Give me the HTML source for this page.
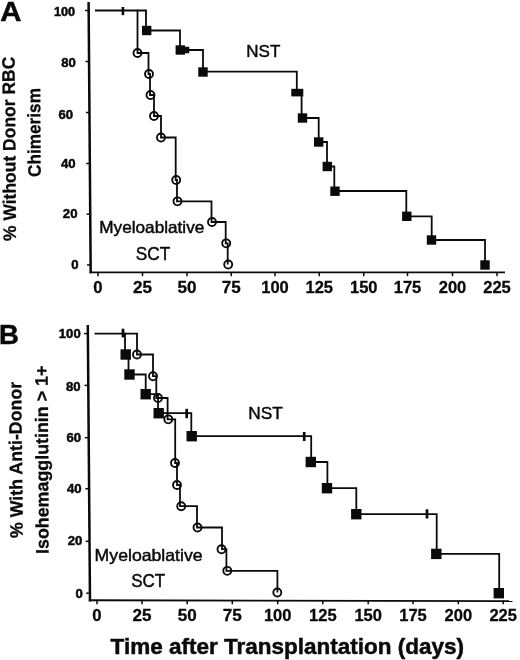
<!DOCTYPE html>
<html><head><meta charset="utf-8"><title>Figure</title>
<style>
html,body{margin:0;padding:0;background:#fff;}
svg{display:block;font-family:"Liberation Sans",sans-serif;fill:#0a0a0a;}
</style></head>
<body>
<svg width="520" height="660" viewBox="0 0 520 660">
<rect x="0" y="0" width="520" height="660" fill="#fff"/>
<path d="M88.6 2 L90.7 273.29999999999995" fill="none" stroke="#0a0a0a" stroke-width="2.5" stroke-linejoin="miter"/>
<path d="M89.5 272.4 H505" fill="none" stroke="#0a0a0a" stroke-width="1.9" stroke-linejoin="miter"/>
<line x1="85.07" y1="10.5" x2="88.67" y2="10.5" stroke="#0a0a0a" stroke-width="1.5"/>
<text x="75.17" y="15.6" font-size="13" font-weight="bold" text-anchor="end" textLength="21.2" lengthAdjust="spacingAndGlyphs" stroke="#0a0a0a" stroke-width="0.5">100</text>
<line x1="85.46" y1="61.5" x2="89.06" y2="61.5" stroke="#0a0a0a" stroke-width="1.5"/>
<text x="75.86" y="67.1" font-size="13" font-weight="bold" text-anchor="end" textLength="14.6" lengthAdjust="spacingAndGlyphs" stroke="#0a0a0a" stroke-width="0.5">80</text>
<line x1="85.86" y1="112.5" x2="89.46" y2="112.5" stroke="#0a0a0a" stroke-width="1.5"/>
<text x="73.16" y="118.5" font-size="13" font-weight="bold" text-anchor="end" textLength="14.6" lengthAdjust="spacingAndGlyphs" stroke="#0a0a0a" stroke-width="0.5">60</text>
<line x1="86.26" y1="163.5" x2="89.86" y2="163.5" stroke="#0a0a0a" stroke-width="1.5"/>
<text x="75.56" y="168.1" font-size="13" font-weight="bold" text-anchor="end" textLength="14.6" lengthAdjust="spacingAndGlyphs" stroke="#0a0a0a" stroke-width="0.5">40</text>
<line x1="86.65" y1="214.1" x2="90.25" y2="214.1" stroke="#0a0a0a" stroke-width="1.5"/>
<text x="77.45" y="217.9" font-size="13" font-weight="bold" text-anchor="end" textLength="14.6" lengthAdjust="spacingAndGlyphs" stroke="#0a0a0a" stroke-width="0.5">20</text>
<line x1="87.04" y1="264.9" x2="90.64" y2="264.9" stroke="#0a0a0a" stroke-width="1.5"/>
<text x="78.64" y="268.7" font-size="13" font-weight="bold" text-anchor="end" textLength="7.3" lengthAdjust="spacingAndGlyphs" stroke="#0a0a0a" stroke-width="0.5">0</text>
<line x1="98" y1="272.4" x2="98" y2="276.2" stroke="#0a0a0a" stroke-width="1.5"/>
<text x="98" y="292.8" font-size="17" font-weight="bold" text-anchor="middle" textLength="9.3" lengthAdjust="spacingAndGlyphs" stroke="#0a0a0a" stroke-width="0.3">0</text>
<line x1="142.5" y1="272.4" x2="142.5" y2="276.2" stroke="#0a0a0a" stroke-width="1.5"/>
<text x="142.5" y="292.8" font-size="17" font-weight="bold" text-anchor="middle" textLength="19" lengthAdjust="spacingAndGlyphs" stroke="#0a0a0a" stroke-width="0.3">25</text>
<line x1="187" y1="272.4" x2="187" y2="276.2" stroke="#0a0a0a" stroke-width="1.5"/>
<text x="187" y="292.8" font-size="17" font-weight="bold" text-anchor="middle" textLength="19" lengthAdjust="spacingAndGlyphs" stroke="#0a0a0a" stroke-width="0.3">50</text>
<line x1="231.25" y1="272.4" x2="231.25" y2="276.2" stroke="#0a0a0a" stroke-width="1.5"/>
<text x="231.25" y="292.8" font-size="17" font-weight="bold" text-anchor="middle" textLength="19" lengthAdjust="spacingAndGlyphs" stroke="#0a0a0a" stroke-width="0.3">75</text>
<line x1="275" y1="272.4" x2="275" y2="276.2" stroke="#0a0a0a" stroke-width="1.5"/>
<text x="275" y="292.8" font-size="17" font-weight="bold" text-anchor="middle" textLength="27.6" lengthAdjust="spacingAndGlyphs" stroke="#0a0a0a" stroke-width="0.3">100</text>
<line x1="319.25" y1="272.4" x2="319.25" y2="276.2" stroke="#0a0a0a" stroke-width="1.5"/>
<text x="319.25" y="292.8" font-size="17" font-weight="bold" text-anchor="middle" textLength="27.6" lengthAdjust="spacingAndGlyphs" stroke="#0a0a0a" stroke-width="0.3">125</text>
<line x1="363.75" y1="272.4" x2="363.75" y2="276.2" stroke="#0a0a0a" stroke-width="1.5"/>
<text x="363.75" y="292.8" font-size="17" font-weight="bold" text-anchor="middle" textLength="27.6" lengthAdjust="spacingAndGlyphs" stroke="#0a0a0a" stroke-width="0.3">150</text>
<line x1="407.5" y1="272.4" x2="407.5" y2="276.2" stroke="#0a0a0a" stroke-width="1.5"/>
<text x="407.5" y="292.8" font-size="17" font-weight="bold" text-anchor="middle" textLength="27.6" lengthAdjust="spacingAndGlyphs" stroke="#0a0a0a" stroke-width="0.3">175</text>
<line x1="452.5" y1="272.4" x2="452.5" y2="276.2" stroke="#0a0a0a" stroke-width="1.5"/>
<text x="452.5" y="292.8" font-size="17" font-weight="bold" text-anchor="middle" textLength="27.6" lengthAdjust="spacingAndGlyphs" stroke="#0a0a0a" stroke-width="0.3">200</text>
<line x1="497" y1="272.4" x2="497" y2="276.2" stroke="#0a0a0a" stroke-width="1.5"/>
<text x="497" y="292.8" font-size="17" font-weight="bold" text-anchor="middle" textLength="27.6" lengthAdjust="spacingAndGlyphs" stroke="#0a0a0a" stroke-width="0.3">225</text>
<path d="M95 10.5 H137.5 V53 H148.5 V74 H150 V95 H154 V116 H161 V137.5 H175.7 V180 H177 V201.3 H211.5 V222 H225.7 V243.3 H227.7 V264.5" fill="none" stroke="#0a0a0a" stroke-width="1.8" stroke-linejoin="miter"/>
<circle cx="137.5" cy="53" r="4.0" fill="none" stroke="#0a0a0a" stroke-width="1.85"/>
<circle cx="149" cy="74" r="4.0" fill="none" stroke="#0a0a0a" stroke-width="1.85"/>
<circle cx="150.5" cy="95" r="4.0" fill="none" stroke="#0a0a0a" stroke-width="1.85"/>
<circle cx="154" cy="116" r="4.0" fill="none" stroke="#0a0a0a" stroke-width="1.85"/>
<circle cx="161" cy="137.5" r="4.0" fill="none" stroke="#0a0a0a" stroke-width="1.85"/>
<circle cx="176.2" cy="180" r="4.0" fill="none" stroke="#0a0a0a" stroke-width="1.85"/>
<circle cx="177.5" cy="201.3" r="4.0" fill="none" stroke="#0a0a0a" stroke-width="1.85"/>
<circle cx="212" cy="222" r="4.0" fill="none" stroke="#0a0a0a" stroke-width="1.85"/>
<circle cx="226.2" cy="243.3" r="4.0" fill="none" stroke="#0a0a0a" stroke-width="1.85"/>
<circle cx="228.2" cy="264.5" r="4.0" fill="none" stroke="#0a0a0a" stroke-width="1.85"/>
<line x1="122.9" y1="7.0" x2="122.9" y2="15.2" stroke="#0a0a0a" stroke-width="2.6"/>
<path d="M137.5 10.5 H146 V30.5 H180 V50 H203 V71.6 H296.8 V92.5 H301.6 V118 H318.7 V142 H327 V166.5 H334.3 V191 H406.3 V216.3 H431.7 V240 H485 V265" fill="none" stroke="#0a0a0a" stroke-width="1.8" stroke-linejoin="miter"/>
<rect x="142.00" y="25.80" width="9.4" height="9.4" fill="#0a0a0a"/>
<rect x="175.60" y="45.30" width="9.4" height="9.4" fill="#0a0a0a"/>
<rect x="198.30" y="67.30" width="9.4" height="9.4" fill="#0a0a0a"/>
<rect x="297.80" y="113.30" width="9.4" height="9.4" fill="#0a0a0a"/>
<rect x="314.00" y="137.30" width="9.4" height="9.4" fill="#0a0a0a"/>
<rect x="322.60" y="161.80" width="9.4" height="9.4" fill="#0a0a0a"/>
<rect x="330.30" y="186.50" width="9.4" height="9.4" fill="#0a0a0a"/>
<rect x="402.10" y="211.60" width="9.4" height="9.4" fill="#0a0a0a"/>
<rect x="426.80" y="235.30" width="9.4" height="9.4" fill="#0a0a0a"/>
<rect x="480.30" y="260.30" width="9.4" height="9.4" fill="#0a0a0a"/>
<rect x="291.3" y="88.8" width="12" height="7.6" fill="#0a0a0a"/>
<rect x="182.75" y="46.75" width="6.5" height="6.5" fill="#0a0a0a"/>
<text x="0.2" y="20.7" font-size="27.5" font-weight="bold" text-anchor="start" textLength="21.2" lengthAdjust="spacingAndGlyphs" stroke="#0a0a0a" stroke-width="0.5">A</text>
<text x="246.3" y="57.3" font-size="17" font-weight="normal" text-anchor="start" textLength="34" lengthAdjust="spacingAndGlyphs" stroke="#0a0a0a" stroke-width="0.45">NST</text>
<text x="99.3" y="233.4" font-size="16.5" font-weight="normal" text-anchor="start" textLength="105" lengthAdjust="spacingAndGlyphs" stroke="#0a0a0a" stroke-width="0.45">Myeloablative</text>
<text x="135.7" y="260" font-size="17.5" font-weight="normal" text-anchor="start" textLength="34.5" lengthAdjust="spacingAndGlyphs" stroke="#0a0a0a" stroke-width="0.45">SCT</text>
<text x="16.1" y="241" font-size="18" font-weight="bold" text-anchor="start" textLength="184.3" lengthAdjust="spacingAndGlyphs" transform="rotate(-90.45 16.1 241)" stroke="#0a0a0a" stroke-width="0.3">% Without Donor RBC</text>
<text x="40.7" y="177" font-size="18" font-weight="bold" text-anchor="start" textLength="89" lengthAdjust="spacingAndGlyphs" transform="rotate(-90.4 40.7 177)" stroke="#0a0a0a" stroke-width="0.3">Chimerism</text>
<path d="M87.8 325 L90.0 601.4" fill="none" stroke="#0a0a0a" stroke-width="2.5" stroke-linejoin="miter"/>
<path d="M88.8 600.3 L512.5 601.1" fill="none" stroke="#0a0a0a" stroke-width="1.9" stroke-linejoin="miter"/>
<line x1="84.07" y1="333.6" x2="87.67" y2="333.6" stroke="#0a0a0a" stroke-width="1.5"/>
<text x="80.67" y="338.0" font-size="13" font-weight="bold" text-anchor="end" textLength="21.8" lengthAdjust="spacingAndGlyphs" stroke="#0a0a0a" stroke-width="0.5">100</text>
<line x1="84.48" y1="385.4" x2="88.08" y2="385.4" stroke="#0a0a0a" stroke-width="1.5"/>
<text x="80.58" y="390.6" font-size="13" font-weight="bold" text-anchor="end" textLength="14.6" lengthAdjust="spacingAndGlyphs" stroke="#0a0a0a" stroke-width="0.5">80</text>
<line x1="84.90" y1="437.7" x2="88.50" y2="437.7" stroke="#0a0a0a" stroke-width="1.5"/>
<text x="81.1" y="441.8" font-size="13" font-weight="bold" text-anchor="end" textLength="14.6" lengthAdjust="spacingAndGlyphs" stroke="#0a0a0a" stroke-width="0.5">60</text>
<line x1="85.31" y1="488.8" x2="88.91" y2="488.8" stroke="#0a0a0a" stroke-width="1.5"/>
<text x="81.61" y="492.6" font-size="13" font-weight="bold" text-anchor="end" textLength="14.6" lengthAdjust="spacingAndGlyphs" stroke="#0a0a0a" stroke-width="0.5">40</text>
<line x1="85.73" y1="541.3" x2="89.33" y2="541.3" stroke="#0a0a0a" stroke-width="1.5"/>
<text x="82.33" y="545.2" font-size="13" font-weight="bold" text-anchor="end" textLength="14.6" lengthAdjust="spacingAndGlyphs" stroke="#0a0a0a" stroke-width="0.5">20</text>
<line x1="86.15" y1="593.2" x2="89.75" y2="593.2" stroke="#0a0a0a" stroke-width="1.5"/>
<text x="82.75" y="597.6" font-size="13" font-weight="bold" text-anchor="end" textLength="7.3" lengthAdjust="spacingAndGlyphs" stroke="#0a0a0a" stroke-width="0.5">0</text>
<line x1="97" y1="600.5" x2="97" y2="604.3" stroke="#0a0a0a" stroke-width="1.5"/>
<text x="97" y="621.3" font-size="17" font-weight="bold" text-anchor="middle" textLength="9.3" lengthAdjust="spacingAndGlyphs" stroke="#0a0a0a" stroke-width="0.3">0</text>
<line x1="142" y1="600.5" x2="142" y2="604.3" stroke="#0a0a0a" stroke-width="1.5"/>
<text x="142" y="621.3" font-size="17" font-weight="bold" text-anchor="middle" textLength="19" lengthAdjust="spacingAndGlyphs" stroke="#0a0a0a" stroke-width="0.3">25</text>
<line x1="187.2" y1="600.5" x2="187.2" y2="604.3" stroke="#0a0a0a" stroke-width="1.5"/>
<text x="187.2" y="621.3" font-size="17" font-weight="bold" text-anchor="middle" textLength="19" lengthAdjust="spacingAndGlyphs" stroke="#0a0a0a" stroke-width="0.3">50</text>
<line x1="232.3" y1="600.5" x2="232.3" y2="604.3" stroke="#0a0a0a" stroke-width="1.5"/>
<text x="232.3" y="621.3" font-size="17" font-weight="bold" text-anchor="middle" textLength="19" lengthAdjust="spacingAndGlyphs" stroke="#0a0a0a" stroke-width="0.3">75</text>
<line x1="277.7" y1="600.5" x2="277.7" y2="604.3" stroke="#0a0a0a" stroke-width="1.5"/>
<text x="277.7" y="621.3" font-size="17" font-weight="bold" text-anchor="middle" textLength="27.6" lengthAdjust="spacingAndGlyphs" stroke="#0a0a0a" stroke-width="0.3">100</text>
<line x1="322.8" y1="600.5" x2="322.8" y2="604.3" stroke="#0a0a0a" stroke-width="1.5"/>
<text x="322.8" y="621.3" font-size="17" font-weight="bold" text-anchor="middle" textLength="27.6" lengthAdjust="spacingAndGlyphs" stroke="#0a0a0a" stroke-width="0.3">125</text>
<line x1="368.2" y1="600.5" x2="368.2" y2="604.3" stroke="#0a0a0a" stroke-width="1.5"/>
<text x="368.2" y="621.3" font-size="17" font-weight="bold" text-anchor="middle" textLength="27.6" lengthAdjust="spacingAndGlyphs" stroke="#0a0a0a" stroke-width="0.3">150</text>
<line x1="413" y1="600.5" x2="413" y2="604.3" stroke="#0a0a0a" stroke-width="1.5"/>
<text x="413" y="621.3" font-size="17" font-weight="bold" text-anchor="middle" textLength="27.6" lengthAdjust="spacingAndGlyphs" stroke="#0a0a0a" stroke-width="0.3">175</text>
<line x1="458.3" y1="600.5" x2="458.3" y2="604.3" stroke="#0a0a0a" stroke-width="1.5"/>
<text x="458.3" y="621.3" font-size="17" font-weight="bold" text-anchor="middle" textLength="27.6" lengthAdjust="spacingAndGlyphs" stroke="#0a0a0a" stroke-width="0.3">200</text>
<line x1="503.2" y1="600.5" x2="503.2" y2="604.3" stroke="#0a0a0a" stroke-width="1.5"/>
<text x="503.2" y="621.3" font-size="17" font-weight="bold" text-anchor="middle" textLength="27.6" lengthAdjust="spacingAndGlyphs" stroke="#0a0a0a" stroke-width="0.3">225</text>
<path d="M125 333.6 H137 V354.5 H153 V376.2 H156.3 V398 H167.6 V419.3 H175.2 V463 H177 V485 H180 V506.2 H197 V527.5 H222 V549.2 H226.4 V570.8 H277.4 V592.5" fill="none" stroke="#0a0a0a" stroke-width="1.8" stroke-linejoin="miter"/>
<circle cx="137" cy="354.5" r="4.0" fill="none" stroke="#0a0a0a" stroke-width="1.85"/>
<circle cx="153" cy="376.2" r="4.0" fill="none" stroke="#0a0a0a" stroke-width="1.85"/>
<circle cx="158" cy="398" r="4.0" fill="none" stroke="#0a0a0a" stroke-width="1.85"/>
<circle cx="168.3" cy="419.3" r="4.0" fill="none" stroke="#0a0a0a" stroke-width="1.85"/>
<circle cx="175" cy="463" r="4.0" fill="none" stroke="#0a0a0a" stroke-width="1.85"/>
<circle cx="177" cy="485" r="4.0" fill="none" stroke="#0a0a0a" stroke-width="1.85"/>
<circle cx="181.2" cy="506.2" r="4.0" fill="none" stroke="#0a0a0a" stroke-width="1.85"/>
<circle cx="197.5" cy="527.5" r="4.0" fill="none" stroke="#0a0a0a" stroke-width="1.85"/>
<circle cx="221.5" cy="549.2" r="4.0" fill="none" stroke="#0a0a0a" stroke-width="1.85"/>
<circle cx="227.3" cy="570.8" r="4.0" fill="none" stroke="#0a0a0a" stroke-width="1.85"/>
<circle cx="277.3" cy="592.5" r="4.0" fill="none" stroke="#0a0a0a" stroke-width="1.85"/>
<path d="M94.5 333.6 H125 V354.5 H128.5 V374.5 H145.7 V394.2 H158 V413.2 H191.3 V436.2 H311.2 V462 H327.4 V488.2 H356.3 V514.2 H436.7 V553.9 H499.2 V593.2" fill="none" stroke="#0a0a0a" stroke-width="1.8" stroke-linejoin="miter"/>
<rect x="120.50" y="349.30" width="10.4" height="10.4" fill="#0a0a0a"/>
<rect x="124.30" y="369.30" width="10.4" height="10.4" fill="#0a0a0a"/>
<rect x="140.50" y="389.00" width="10.4" height="10.4" fill="#0a0a0a"/>
<rect x="153.50" y="408.00" width="10.4" height="10.4" fill="#0a0a0a"/>
<rect x="186.50" y="431.00" width="10.4" height="10.4" fill="#0a0a0a"/>
<rect x="305.60" y="456.80" width="10.4" height="10.4" fill="#0a0a0a"/>
<rect x="321.80" y="483.00" width="10.4" height="10.4" fill="#0a0a0a"/>
<rect x="351.10" y="509.00" width="10.4" height="10.4" fill="#0a0a0a"/>
<rect x="431.10" y="548.70" width="10.4" height="10.4" fill="#0a0a0a"/>
<rect x="493.60" y="588.00" width="10.4" height="10.4" fill="#0a0a0a"/>
<line x1="123" y1="328.7" x2="123" y2="337.4" stroke="#0a0a0a" stroke-width="2.7"/>
<line x1="186.7" y1="408.8" x2="186.7" y2="418.2" stroke="#0a0a0a" stroke-width="2.7"/>
<line x1="304.2" y1="432" x2="304.2" y2="441" stroke="#0a0a0a" stroke-width="2.7"/>
<line x1="427" y1="509.3" x2="427" y2="518.5" stroke="#0a0a0a" stroke-width="2.7"/>
<text x="-0.9" y="344.1" font-size="27.5" font-weight="bold" text-anchor="start" stroke="#0a0a0a" stroke-width="0.5">B</text>
<text x="248.2" y="418.8" font-size="17" font-weight="normal" text-anchor="start" textLength="34.5" lengthAdjust="spacingAndGlyphs" stroke="#0a0a0a" stroke-width="0.45">NST</text>
<text x="94.6" y="561" font-size="16.5" font-weight="normal" text-anchor="start" textLength="108" lengthAdjust="spacingAndGlyphs" stroke="#0a0a0a" stroke-width="0.45">Myeloablative</text>
<text x="131.2" y="586.8" font-size="17.5" font-weight="normal" text-anchor="start" textLength="34" lengthAdjust="spacingAndGlyphs" stroke="#0a0a0a" stroke-width="0.45">SCT</text>
<text x="22.85" y="538.1" font-size="18" font-weight="bold" text-anchor="start" textLength="156.3" lengthAdjust="spacingAndGlyphs" transform="rotate(-90.6 22.85 538.1)" stroke="#0a0a0a" stroke-width="0.3">% With Anti-Donor</text>
<text x="48.6" y="554.0" font-size="18" font-weight="bold" text-anchor="start" textLength="188.4" lengthAdjust="spacingAndGlyphs" transform="rotate(-90.25 48.6 554.0)" stroke="#0a0a0a" stroke-width="0.3">Isohemagglutinin &gt; 1+</text>
<text x="110.6" y="654.4" font-size="22.5" font-weight="bold" text-anchor="start" textLength="353.5" lengthAdjust="spacingAndGlyphs" stroke="#0a0a0a" stroke-width="0.5">Time after Transplantation (days)</text>
</svg>
</body></html>
